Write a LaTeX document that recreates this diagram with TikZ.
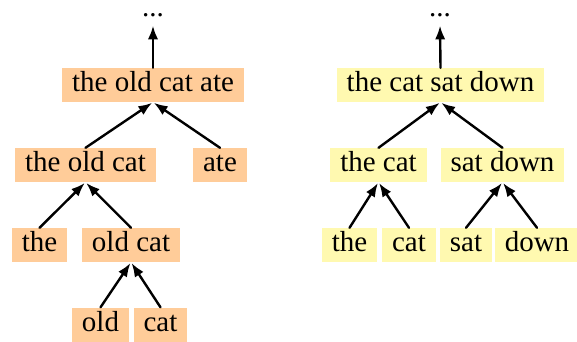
\documentclass[tikz,border=0pt]{standalone}
\usepackage{fontspec}
\setmainfont{Liberation Serif}
\usepackage{tikz}
\usetikzlibrary{arrows.meta}

\definecolor{peach}{HTML}{FFCC99}
\definecolor{paleyellow}{HTML}{FFF9B0}

\begin{document}
\begin{tikzpicture}[
    x=1pt, y=-1pt,
    >=Latex,
    line cap=round,
    line join=round,
    word/.style={font=\fontsize{29}{34}\selectfont, text height=19pt, text depth=6pt,
        inner xsep=10pt, inner ysep=4.5pt},
    dotsnode/.style={font=\fontsize{29}{34}\selectfont, inner xsep=0pt, inner ysep=8pt, anchor=base},
    orangebox/.style={word, fill=peach},
    yellowbox/.style={word, fill=paleyellow},
    link/.style={line width=2.4pt, ->, shorten >=1pt}
]

\useasboundingbox (0,0) rectangle (577,341);

% left tree
\node[dotsnode] (ldots) at (153,16) {...};
\node[orangebox] (lroot) at (153,85) {the old cat ate};
\node[orangebox] (loldcat) at (85.5,165) {the old cat};
\node[orangebox] (late) at (220,165) {ate};
\node[orangebox] (lthe) at (39.5,245) {the};
\node[orangebox] (lold2) at (131,245) {old cat};
\node[orangebox] (lold) at (100.5,324.5) {old};
\node[orangebox] (lcat) at (160.5,324.5) {cat};

\draw[link] (lroot.north) -- (ldots.south);
\draw[link] (loldcat.north) -- (lroot.south);
\draw[link] (late.north) -- (lroot.south);
\draw[link] (lthe.north) -- (loldcat.south);
\draw[link] (lold2.north) -- (loldcat.south);
\draw[link] (lold.north) -- (lold2.south);
\draw[link] (lcat.north) -- (lold2.south);

% right tree
\node[dotsnode] (rdots) at (440,16) {...};
\node[yellowbox] (rroot) at (440.5,85) {the cat sat down};
\node[yellowbox] (rthecat) at (378.5,165) {the cat};
\node[yellowbox] (rsatdown) at (502.5,165) {sat down};
\node[yellowbox] (rthe) at (349.5,245) {the};
\node[yellowbox] (rcat) at (409,245) {cat};
\node[yellowbox] (rsat) at (466,245) {sat};
\node[yellowbox] (rdown) at (537,245) {down};

\draw[link] (rroot.north) -- (rdots.south);
\draw[link] (rthecat.north) -- (rroot.south);
\draw[link] (rsatdown.north) -- (rroot.south);
\draw[link] (rthe.north) -- (rthecat.south);
\draw[link] (rcat.north) -- (rthecat.south);
\draw[link] (rsat.north) -- (rsatdown.south);
\draw[link] (rdown.north) -- (rsatdown.south);

\end{tikzpicture}
\end{document}
